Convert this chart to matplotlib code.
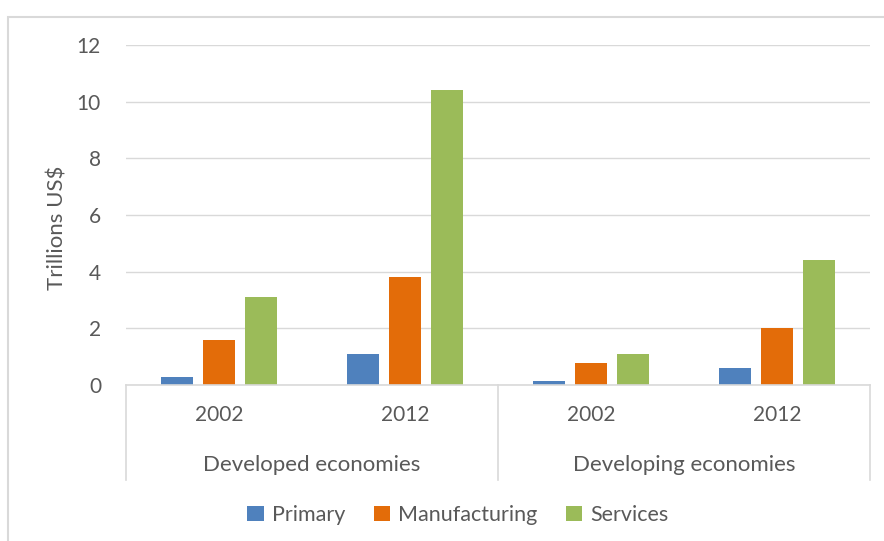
import matplotlib
matplotlib.use("Agg")
from matplotlib import pyplot as plt
from matplotlib.patches import Rectangle, Patch
from matplotlib.transforms import blended_transform_factory
import numpy as np

plt.rcParams['font.family'] = ['Lato', 'DejaVu Sans']

groups = ['Developed economies', 'Developing economies']
years = ['2002', '2012', '2002', '2012']
series = ['Primary', 'Manufacturing', 'Services']
primary = [0.3, 1.1, 0.13, 0.6]
manufacturing = [1.6, 3.8, 0.77, 2.0]
services = [3.1, 10.4, 1.1, 4.4]
colors = ['#4F81BD', '#E36C09', '#9BBB59']

text_col = '#595959'
grid_col = '#D9D9D9'

W, H = 884, 541
fig = plt.figure(figsize=(W / 100, H / 100), dpi=100)

# light frame around the chart, cut off at the right and bottom
fig.patches.append(Rectangle((8 / W, -0.1), 1.2, 1.1 - 17 / H, transform=fig.transFigure,
                             fill=False, edgecolor=grid_col, lw=1.5))

ax = fig.add_axes([126 / W, (H - 385) / H, 744 / W, 340 / H])
ax.set_xlim(0, 4)
ax.set_ylim(0, 12)
for s in ax.spines.values():
    s.set_visible(False)

ax.set_yticks(np.arange(0, 13, 2))
ax.tick_params(axis='y', length=0, pad=18, labelsize=15, labelcolor=text_col)
ax.set_xticks([])
ax.yaxis.grid(True, color=grid_col, lw=1)
ax.set_axisbelow(True)

x = np.arange(4) + 0.5
width = 0.177
step = 0.226
for i, (vals, c) in enumerate(zip([primary, manufacturing, services], colors)):
    ax.bar(x + (i - 1) * step, vals, width, color=c, label=series[i], zorder=3)

# category axis: baseline, separators, year and group labels
tr = blended_transform_factory(ax.transData, ax.transAxes)
below = -95 / 340
ax.plot([0, 4], [0, 0], color=grid_col, lw=1.2, transform=tr, clip_on=False, zorder=4)
for xs in [0, 2, 4]:
    ax.plot([xs, xs], [0, below], color=grid_col, lw=1.2, transform=tr, clip_on=False)
for xi, yr in zip(x, years):
    ax.text(xi, -30 / 340, yr, transform=tr, ha='center', va='center',
            fontsize=15, color=text_col)
for gi, g in enumerate(groups):
    ax.text(1 + 2 * gi, -80 / 340, g, transform=tr, ha='center', va='center',
            fontsize=16, color=text_col)

fig.text(57 / W, 1 - 228 / H, 'Trillions US$', rotation=90, ha='center', va='center',
         fontsize=16, color=text_col)

handles = [Patch(facecolor=c, label=s) for c, s in zip(colors, series)]
fig.legend(handles=handles, loc='center', bbox_to_anchor=(458 / W, 1 - 515 / H), ncol=3,
           frameon=False, fontsize=15.5, labelcolor=text_col, handlelength=0.75,
           handleheight=0.75, handletextpad=0.4, columnspacing=1.3)

fig.savefig('out.png', dpi=100, facecolor='white')
